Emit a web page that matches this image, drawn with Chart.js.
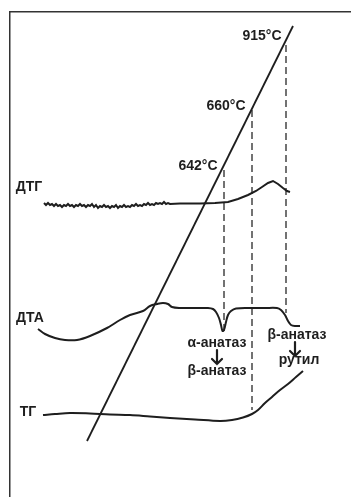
<!DOCTYPE html>
<html>
<head>
<meta charset="utf-8">
<script src="https://cdn.jsdelivr.net/npm/chart.js@4"></script>
<style>
  html, body { margin: 0; padding: 0; background: #fff; }
  canvas { display: block; }
</style>
</head>
<body>
<canvas id="chart" width="351" height="497"></canvas>
<script>
// curves (x = time, y = trace level, both in plot units)
const dtgX = [44,46,48,50,52,54,56,58,60,62,64,66,68,70,72,74,76,78,80,82,84,86,88,90,92,94,96,98,100,102,104,106,108,110,112,114,116,118,120,122,124,126,128,130,132,134,136,138,140,142,144,146,148,150,152,154,156,158,160,162,164,166,168,170,180,200,215,228,238,248,256,262,268,273,278,283,287,290];
const dtgY = [203,205,203,205,204,206,204,206,205,207,205,206,204,206,205,207,205,206,204,206,205,207,205,206,204,207,205,208,206,207,205,207,206,208,206,207,205,208,206,207,205,207,206,207,205,206,204,206,205,206,204,205,203,205,204,205,203,204,203,204,202,204,203,204,203.5,203.5,203,202,199,195,191,187,183,181,184,188,191,192];

const dtaX = [38,45,55,65,77,90,107,120,130,143,150,157,163,168,172,180,195,208,213,216,219,221,222.5,224,226,228,231,236,250,265,277,281,285,288,291,296,300];
const dtaY = [329,334,338,340,340,336,328,320,315,311,306,304,303,304,307,308,308,308,309,312,318,325,331,330,322,315,311,308.5,308,308,308,310,315,321,325,326,326];

const tgX = [43,55,70,90,110,130,150,170,195,220,232,243,252,258,265,272,280,288,296,303];
const tgY = [415,414,413,413.5,414.5,415,416.5,418,419.5,421,420,417.5,414,410,403,397,390,384,377,371];

// temperature line
const tempX = [87,293];
const tempY = [441,26];

// dashed markers at 642, 660 and 915 °C
const markX = [224,252,286];
const markTop = [170,110,45];
const markBottom = [332,410,313];

const labelTexts = ["915°C","660°C","642°C","ДТГ","ДТА","ТГ","α-анатаз","β-анатаз","β-анатаз","рутил"];
const labelX = [262,226,198,29,30,28,217,217,297,299];
const labelY = [36,106,166,187,318,412,343,371,335,360];

// transformation arrows (x, top, bottom)
const arrowX = [217,295];
const arrowTop = [350,342];
const arrowBottom = [364,356];

function pts(xs, ys) {
  return xs.map(function (x, i) { return { x: x, y: ys[i] }; });
}

const ink = "#1e1e1e";
const datasets = [
  { data: pts(dtgX, dtgY), tension: 0, borderWidth: 2 },
  { data: pts(dtaX, dtaY), tension: 0.35, borderWidth: 2 },
  { data: pts(tgX, tgY), tension: 0.35, borderWidth: 2 },
  { data: pts(tempX, tempY), tension: 0, borderWidth: 1.8 },
];
markX.forEach(function (x, i) {
  datasets.push({
    data: [{ x: x, y: markTop[i] }, { x: x, y: markBottom[i] }],
    borderDash: [7, 4],
    borderWidth: 1.5,
    borderColor: "#444",
    tension: 0,
  });
});
datasets.forEach(function (d) {
  d.showLine = true;
  d.pointRadius = 0;
  if (!d.borderColor) d.borderColor = ink;
});

// text labels and arrows placed through the scales
const textPlugin = {
  id: "texts",
  afterDatasetsDraw(chart) {
    const ctx = chart.ctx;
    const xs = chart.scales.x, ys = chart.scales.y;
    ctx.save();
    ctx.fillStyle = ink;
    ctx.strokeStyle = ink;
    ctx.textAlign = "center";
    ctx.textBaseline = "middle";
    ctx.font = "bold 14px 'Liberation Sans', Arial, sans-serif";
    labelTexts.forEach(function (t, i) {
      ctx.fillText(t, xs.getPixelForValue(labelX[i]), ys.getPixelForValue(labelY[i]));
    });
    ctx.lineWidth = 2.2;
    ctx.lineCap = "round";
    arrowX.forEach(function (x, i) {
      const px = xs.getPixelForValue(x);
      const t = ys.getPixelForValue(arrowTop[i]);
      const b = ys.getPixelForValue(arrowBottom[i]);
      ctx.beginPath();
      ctx.moveTo(px, t);
      ctx.lineTo(px, b);
      ctx.moveTo(px - 5, b - 5);
      ctx.lineTo(px, b);
      ctx.lineTo(px + 5, b - 5);
      ctx.stroke();
    });
    ctx.restore();
  },
};

const frameAxis = {
  display: true,
  grid: { display: false, drawTicks: false, tickLength: 0 },
  ticks: { display: false },
  border: { display: true, color: "#333", width: 1.5 },
};

new Chart(document.getElementById("chart"), {
  type: "scatter",
  data: { datasets: datasets },
  options: {
    responsive: false,
    animation: false,
    layout: { padding: { left: 10, top: 12, right: 0, bottom: 0 } },
    plugins: { legend: { display: false }, tooltip: { enabled: false } },
    scales: {
      x: Object.assign({ type: "linear", position: "top", min: 10, max: 351 }, frameAxis),
      y: Object.assign({ type: "linear", position: "left", min: 12, max: 497, reverse: true }, frameAxis),
    },
  },
  plugins: [textPlugin],
});
</script>
</body>
</html>
